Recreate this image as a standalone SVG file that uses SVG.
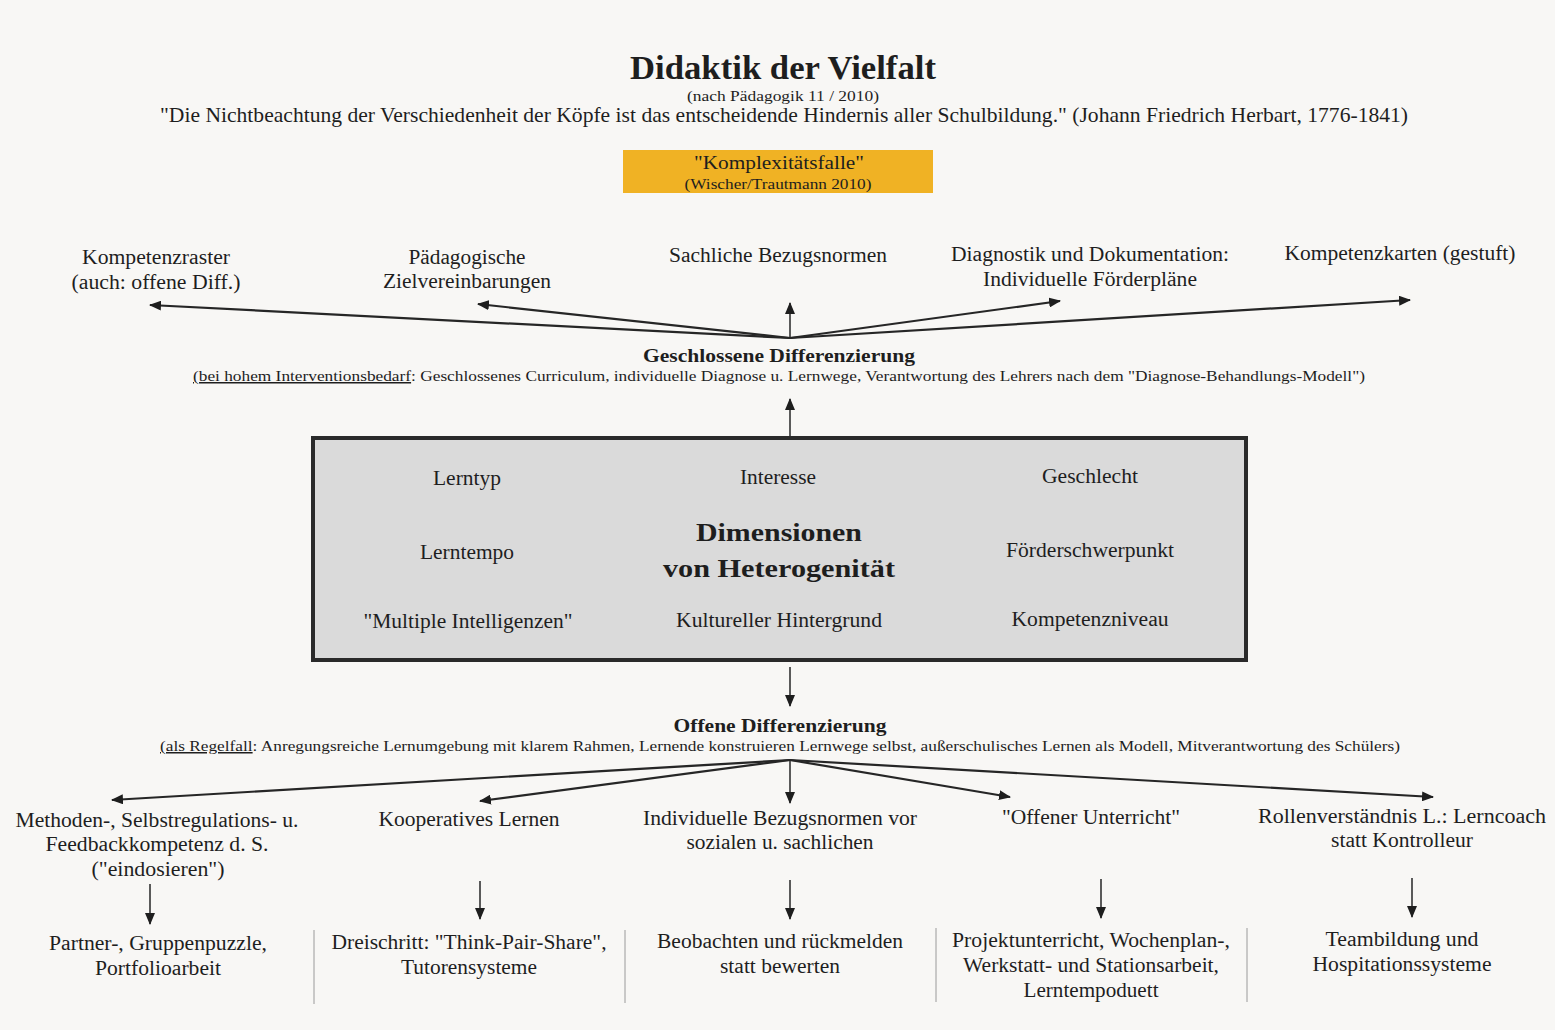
<svg xmlns="http://www.w3.org/2000/svg" width="1555" height="1030" viewBox="0 0 1555 1030" font-family="'Liberation Serif', Tinos, 'Times New Roman', Times, serif">
<defs>
<style>
text{font-family:'Liberation Serif', Tinos, 'Times New Roman', Times, serif;fill:#1e1e1e;text-anchor:middle}
.b{font-weight:bold}
.t20{font-size:20px}
.t15{font-size:15px}
.ln{stroke:#262626;stroke-width:2.2;fill:none}
.sep{stroke:#9a9a9a;stroke-width:1}
.u{text-decoration:underline}
</style>
<marker id="ah" viewBox="0 0 12 10" refX="11" refY="5" markerWidth="12" markerHeight="10" markerUnits="userSpaceOnUse" orient="auto">
<path d="M0,0 L12,5 L0,10 Z" fill="#1e1e1e"/>
</marker>
</defs>
<rect x="0" y="0" width="1555" height="1030" fill="#f8f7f5"/>

<g id="header">
<text class="b" x="783" y="79" font-size="34" textLength="306" lengthAdjust="spacingAndGlyphs">Didaktik der Vielfalt</text>
<text class="t15" x="783" y="101" textLength="192" lengthAdjust="spacingAndGlyphs">(nach Pädagogik 11 / 2010)</text>
<text x="784" y="122" font-size="21" textLength="1248" lengthAdjust="spacingAndGlyphs">"Die Nichtbeachtung der Verschiedenheit der Köpfe ist das entscheidende Hindernis aller Schulbildung." (Johann Friedrich Herbart, 1776-1841)</text>
</g>

<g id="komplexitaetsfalle">
<rect x="623" y="150" width="310" height="43" fill="#f0b224"/>
<text x="779" y="169" font-size="19" textLength="170" lengthAdjust="spacingAndGlyphs">"Komplexitätsfalle"</text>
<text class="t15" x="778" y="189" textLength="187" lengthAdjust="spacingAndGlyphs">(Wischer/Trautmann 2010)</text>
</g>

<g id="kompetenzraster">
<text class="t20" x="156" y="264" textLength="148" lengthAdjust="spacingAndGlyphs">Kompetenzraster</text>
<text class="t20" x="156" y="289" textLength="169" lengthAdjust="spacingAndGlyphs">(auch: offene Diff.)</text>
</g>
<g id="zielvereinbarungen">
<text class="t20" x="467" y="264" textLength="117" lengthAdjust="spacingAndGlyphs">Pädagogische</text>
<text class="t20" x="467" y="288" textLength="168" lengthAdjust="spacingAndGlyphs">Zielvereinbarungen</text>
</g>
<g id="bezugsnormen">
<text class="t20" x="778" y="262" textLength="218" lengthAdjust="spacingAndGlyphs">Sachliche Bezugsnormen</text>
</g>
<g id="diagnostik">
<text class="t20" x="1090" y="261" textLength="278" lengthAdjust="spacingAndGlyphs">Diagnostik und Dokumentation:</text>
<text class="t20" x="1090" y="286" textLength="214" lengthAdjust="spacingAndGlyphs">Individuelle Förderpläne</text>
</g>
<g id="kompetenzkarten">
<text class="t20" x="1400" y="260" textLength="231" lengthAdjust="spacingAndGlyphs">Kompetenzkarten (gestuft)</text>
</g>

<g id="geschlossene">
<text class="b" x="779" y="362" font-size="19" textLength="272" lengthAdjust="spacingAndGlyphs">Geschlossene Differenzierung</text>
<text class="t15" x="779" y="381" textLength="1172" lengthAdjust="spacingAndGlyphs"><tspan class="u">(bei hohem Interventionsbedarf</tspan>: Geschlossenes Curriculum, individuelle Diagnose u. Lernwege, Verantwortung des Lehrers nach dem "Diagnose-Behandlungs-Modell")</text>
</g>

<g id="dimensionen">
<rect x="313" y="438" width="933" height="222" fill="#dadada" stroke="#2a2a2a" stroke-width="4"/>
<text class="t20" x="467" y="485" textLength="68" lengthAdjust="spacingAndGlyphs">Lerntyp</text>
<text class="t20" x="778" y="484" textLength="76" lengthAdjust="spacingAndGlyphs">Interesse</text>
<text class="t20" x="1090" y="483" textLength="96" lengthAdjust="spacingAndGlyphs">Geschlecht</text>
<text class="b" x="779" y="541" font-size="26" textLength="166" lengthAdjust="spacingAndGlyphs">Dimensionen</text>
<text class="b" x="779" y="577" font-size="26" textLength="232" lengthAdjust="spacingAndGlyphs">von Heterogenität</text>
<text class="t20" x="467" y="559" textLength="94" lengthAdjust="spacingAndGlyphs">Lerntempo</text>
<text class="t20" x="1090" y="557" textLength="168" lengthAdjust="spacingAndGlyphs">Förderschwerpunkt</text>
<text class="t20" x="468" y="628" textLength="209" lengthAdjust="spacingAndGlyphs">"Multiple Intelligenzen"</text>
<text class="t20" x="779" y="627" textLength="206" lengthAdjust="spacingAndGlyphs">Kultureller Hintergrund</text>
<text class="t20" x="1090" y="626" textLength="157" lengthAdjust="spacingAndGlyphs">Kompetenzniveau</text>
</g>

<g id="offene">
<text class="b" x="780" y="732" font-size="19" textLength="213" lengthAdjust="spacingAndGlyphs">Offene Differenzierung</text>
<text class="t15" x="780" y="751" textLength="1240" lengthAdjust="spacingAndGlyphs"><tspan class="u">(als Regelfall</tspan>: Anregungsreiche Lernumgebung mit klarem Rahmen, Lernende konstruieren Lernwege selbst, außerschulisches Lernen als Modell, Mitverantwortung des Schülers)</text>
</g>

<g id="methoden">
<text class="t20" x="157" y="827" textLength="283" lengthAdjust="spacingAndGlyphs">Methoden-, Selbstregulations- u.</text>
<text class="t20" x="157" y="851" textLength="223" lengthAdjust="spacingAndGlyphs">Feedbackkompetenz d. S.</text>
<text class="t20" x="158" y="876" textLength="133" lengthAdjust="spacingAndGlyphs">("eindosieren")</text>
</g>
<g id="kooperativ">
<text class="t20" x="469" y="826" textLength="181" lengthAdjust="spacingAndGlyphs">Kooperatives Lernen</text>
</g>
<g id="individuelle">
<text class="t20" x="780" y="825" textLength="274" lengthAdjust="spacingAndGlyphs">Individuelle Bezugsnormen vor</text>
<text class="t20" x="780" y="849" textLength="187" lengthAdjust="spacingAndGlyphs">sozialen u. sachlichen</text>
</g>
<g id="offener">
<text class="t20" x="1091" y="824" textLength="178" lengthAdjust="spacingAndGlyphs">"Offener Unterricht"</text>
</g>
<g id="rollen">
<text class="t20" x="1402" y="823" textLength="288" lengthAdjust="spacingAndGlyphs">Rollenverständnis  L.: Lerncoach</text>
<text class="t20" x="1402" y="847" textLength="142" lengthAdjust="spacingAndGlyphs">statt Kontrolleur</text>
</g>

<g id="partner">
<text class="t20" x="158" y="950" textLength="218" lengthAdjust="spacingAndGlyphs">Partner-, Gruppenpuzzle,</text>
<text class="t20" x="158" y="975" textLength="126" lengthAdjust="spacingAndGlyphs">Portfolioarbeit</text>
</g>
<g id="dreischritt">
<text class="t20" x="469" y="949" textLength="275" lengthAdjust="spacingAndGlyphs">Dreischritt: "Think-Pair-Share",</text>
<text class="t20" x="469" y="974" textLength="136" lengthAdjust="spacingAndGlyphs">Tutorensysteme</text>
</g>
<g id="beobachten">
<text class="t20" x="780" y="948" textLength="246" lengthAdjust="spacingAndGlyphs">Beobachten und rückmelden</text>
<text class="t20" x="780" y="973" textLength="120" lengthAdjust="spacingAndGlyphs">statt bewerten</text>
</g>
<g id="projekt">
<text class="t20" x="1091" y="947" textLength="278" lengthAdjust="spacingAndGlyphs">Projektunterricht, Wochenplan-,</text>
<text class="t20" x="1091" y="972" textLength="256" lengthAdjust="spacingAndGlyphs">Werkstatt- und Stationsarbeit,</text>
<text class="t20" x="1091" y="997" textLength="135" lengthAdjust="spacingAndGlyphs">Lerntempoduett</text>
</g>
<g id="teambildung">
<text class="t20" x="1402" y="946" textLength="153" lengthAdjust="spacingAndGlyphs">Teambildung und</text>
<text class="t20" x="1402" y="971" textLength="179" lengthAdjust="spacingAndGlyphs">Hospitationssysteme</text>
</g>

<g id="connectors">
<line class="ln" x1="790" y1="338" x2="150" y2="305" marker-end="url(#ah)"/>
<line class="ln" x1="790" y1="338" x2="478" y2="304" marker-end="url(#ah)"/>
<line class="ln" x1="790" y1="338" x2="790" y2="303" marker-end="url(#ah)" style="stroke-width:1.5"/>
<line class="ln" x1="790" y1="338" x2="1060" y2="301" marker-end="url(#ah)"/>
<line class="ln" x1="790" y1="338" x2="1410" y2="300" marker-end="url(#ah)"/>
<line class="ln" x1="790" y1="436" x2="790" y2="399" marker-end="url(#ah)" style="stroke-width:1.5"/>
<line class="ln" x1="790" y1="667" x2="790" y2="706" marker-end="url(#ah)" style="stroke-width:1.5"/>
<line class="ln" x1="790" y1="760" x2="112" y2="800" marker-end="url(#ah)"/>
<line class="ln" x1="790" y1="760" x2="480" y2="801" marker-end="url(#ah)"/>
<line class="ln" x1="790" y1="760" x2="790" y2="803" marker-end="url(#ah)" style="stroke-width:1.5"/>
<line class="ln" x1="790" y1="760" x2="1010" y2="797" marker-end="url(#ah)"/>
<line class="ln" x1="790" y1="760" x2="1433" y2="797" marker-end="url(#ah)"/>
<line class="ln" x1="150" y1="884" x2="150" y2="924" marker-end="url(#ah)" style="stroke-width:1.5"/>
<line class="ln" x1="480" y1="881" x2="480" y2="919" marker-end="url(#ah)" style="stroke-width:1.5"/>
<line class="ln" x1="790" y1="880" x2="790" y2="919" marker-end="url(#ah)" style="stroke-width:1.5"/>
<line class="ln" x1="1101" y1="879" x2="1101" y2="918" marker-end="url(#ah)" style="stroke-width:1.5"/>
<line class="ln" x1="1412" y1="878" x2="1412" y2="917" marker-end="url(#ah)" style="stroke-width:1.5"/>
<line class="sep" x1="314" y1="930" x2="314" y2="1004"/>
<line class="sep" x1="625" y1="930" x2="625" y2="1003"/>
<line class="sep" x1="936" y1="928" x2="936" y2="1002"/>
<line class="sep" x1="1247" y1="928" x2="1247" y2="1002"/>
</g>
</svg>
